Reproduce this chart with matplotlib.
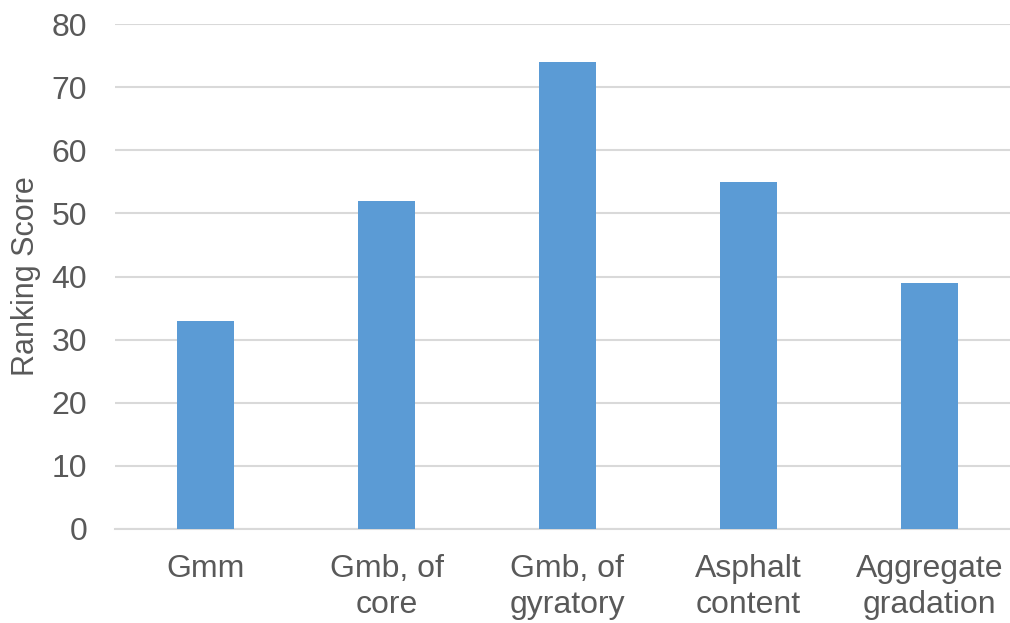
import matplotlib.pyplot as plt

categories = ["Gmm", "Gmb, of\ncore", "Gmb, of\ngyratory", "Asphalt\ncontent", "Aggregate\ngradation"]
scores = [33, 52, 74, 55, 39]
yticks = [0, 10, 20, 30, 40, 50, 60, 70, 80]

plt.rcParams['font.family'] = ['Liberation Sans', 'DejaVu Sans']
text_color = '#595959'

fig = plt.figure(figsize=(10.1, 6.23), dpi=100)
ax = fig.add_axes([115 / 1010, 94 / 623, 905 / 1010, 505 / 623])

x = range(len(categories))
ax.bar(x, scores, width=0.315, color='#5B9BD5', zorder=3)

ax.set_xlim(-0.5, len(categories) - 0.5)
ax.set_ylim(0, 80)
ax.set_yticks(yticks)
ax.set_xticks(list(x))
ax.set_xticklabels(categories, linespacing=1.25)

ax.grid(axis='y', color='#D9D9D9', linewidth=1.5, zorder=0)
for side in ['top', 'right', 'left']:
    ax.spines[side].set_visible(False)
ax.spines['bottom'].set_color('#D9D9D9')
ax.spines['bottom'].set_linewidth(1.5)

ax.tick_params(axis='both', length=0, labelsize=23, colors=text_color)
ax.tick_params(axis='y', pad=20)
ax.tick_params(axis='x', pad=18)
ax.set_ylabel("Ranking Score", fontsize=22, color=text_color)
ax.yaxis.label.set_va('center')
ax.yaxis.set_label_coords(-0.098, 0.5)

fig.savefig("out.png", dpi=100)
